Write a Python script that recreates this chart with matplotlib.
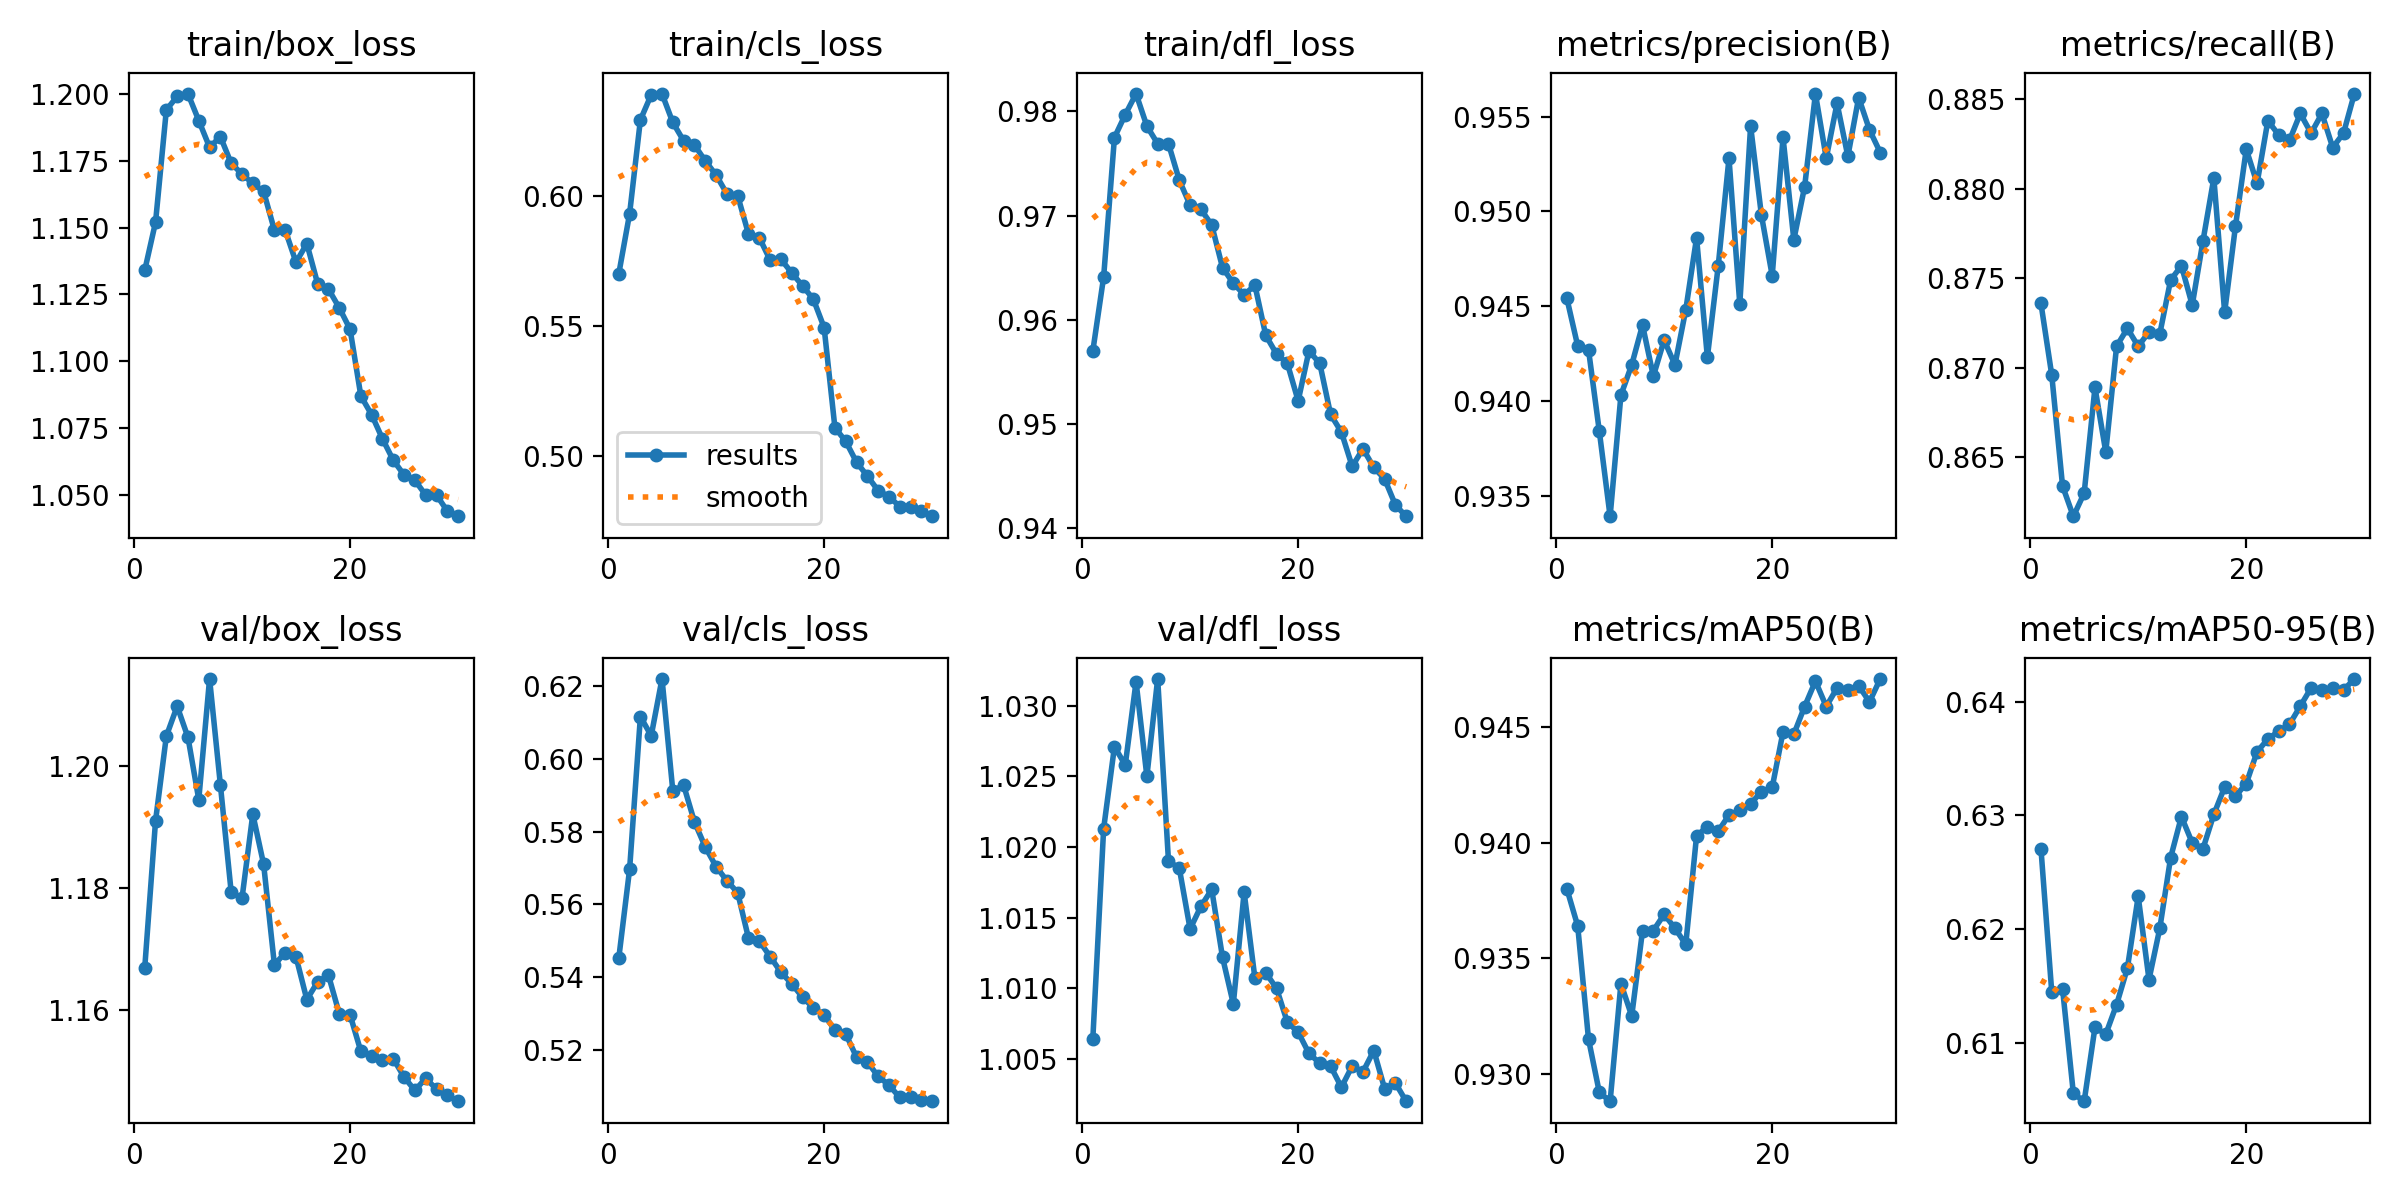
import numpy as np
import matplotlib
matplotlib.use("Agg")
import matplotlib.pyplot as plt

epochs = list(range(1, 31))

train_box_loss = [1.134, 1.152, 1.194, 1.199, 1.200, 1.190, 1.180, 1.184, 1.174, 1.170,
                  1.1665, 1.1635, 1.149, 1.149, 1.137, 1.144, 1.129, 1.127, 1.120, 1.112,
                  1.087, 1.080, 1.071, 1.063, 1.0575, 1.0555, 1.050, 1.050, 1.044, 1.042]
train_cls_loss = [0.570, 0.593, 0.629, 0.6386, 0.639, 0.628, 0.621, 0.6194, 0.6133, 0.6079,
                  0.6007, 0.600, 0.5853, 0.5839, 0.5753, 0.5756, 0.5704, 0.5654, 0.5603, 0.5494,
                  0.511, 0.5058, 0.4978, 0.4925, 0.4869, 0.4846, 0.4808, 0.4808, 0.479, 0.477]
train_dfl_loss = [0.957, 0.9641, 0.9775, 0.9797, 0.9817, 0.9786, 0.9769, 0.9769, 0.9734, 0.9710,
                  0.9706, 0.9691, 0.9650, 0.9635, 0.9624, 0.9633, 0.9585, 0.9567, 0.9558, 0.9522,
                  0.9570, 0.9558, 0.9509, 0.9492, 0.9459, 0.9476, 0.9458, 0.9447, 0.9422, 0.9411]
precision = [0.9454, 0.9429, 0.9427, 0.9384, 0.9339, 0.9403, 0.9419, 0.9440, 0.9413, 0.9432,
             0.9419, 0.9448, 0.9486, 0.9423, 0.9471, 0.9528, 0.9451, 0.9545, 0.9498, 0.9466,
             0.9539, 0.9485, 0.9513, 0.9562, 0.9528, 0.9557, 0.9529, 0.9560, 0.9543, 0.9531]
recall = [0.8736, 0.8696, 0.8634, 0.8617, 0.8630, 0.8689, 0.8653, 0.8712, 0.8722, 0.8712,
          0.8720, 0.8719, 0.8749, 0.8757, 0.8735, 0.8771, 0.8806, 0.8731, 0.8779, 0.8822,
          0.8803, 0.8838, 0.8830, 0.8827, 0.8842, 0.8831, 0.8842, 0.8823, 0.8831, 0.8853]
val_box_loss = [1.1669, 1.1910, 1.2049, 1.2098, 1.2047, 1.1945, 1.2143, 1.1969, 1.1793, 1.1783,
                1.1921, 1.1839, 1.1674, 1.1694, 1.1687, 1.1617, 1.1646, 1.1657, 1.1594, 1.1592,
                1.1532, 1.1525, 1.1518, 1.1520, 1.1490, 1.1468, 1.1488, 1.1470, 1.1460, 1.1450]
val_cls_loss = [0.5452, 0.5696, 0.6117, 0.6064, 0.6221, 0.5912, 0.5928, 0.5827, 0.5758, 0.5704,
                0.5665, 0.5632, 0.5507, 0.5499, 0.5456, 0.5413, 0.5381, 0.5344, 0.5315, 0.5296,
                0.5253, 0.5243, 0.5179, 0.5166, 0.5126, 0.5102, 0.5068, 0.5068, 0.5062, 0.5057]
val_dfl_loss = [1.00645, 1.0213, 1.0271, 1.0258, 1.0317, 1.0250, 1.0319, 1.0190, 1.0185, 1.0142,
                1.0158, 1.0170, 1.0122, 1.0089, 1.0168, 1.0107, 1.0111, 1.0100, 1.0076, 1.0069,
                1.0054, 1.0047, 1.0045, 1.0030, 1.0045, 1.0041, 1.0056, 1.0029, 1.0033, 1.0020]
map50 = [0.9380, 0.9364, 0.9315, 0.9292, 0.9288, 0.9339, 0.9325, 0.9362, 0.9362, 0.9369,
         0.9363, 0.9356, 0.9403, 0.9407, 0.9405, 0.9412, 0.9414, 0.9417, 0.9422, 0.9424,
         0.9448, 0.9447, 0.9459, 0.9470, 0.9459, 0.9467, 0.9466, 0.9468, 0.9461, 0.9471]
map50_95 = [0.6271, 0.6145, 0.6148, 0.6056, 0.6049, 0.6114, 0.6108, 0.6134, 0.6166, 0.6229,
            0.6156, 0.6201, 0.6263, 0.6299, 0.6276, 0.6271, 0.6301, 0.6325, 0.6317, 0.6328,
            0.6356, 0.6367, 0.6374, 0.6380, 0.6396, 0.6412, 0.6410, 0.6412, 0.6410, 0.6420]

titles = ['train/box_loss', 'train/cls_loss', 'train/dfl_loss', 'metrics/precision(B)', 'metrics/recall(B)',
          'val/box_loss', 'val/cls_loss', 'val/dfl_loss', 'metrics/mAP50(B)', 'metrics/mAP50-95(B)']
series = [train_box_loss, train_cls_loss, train_dfl_loss, precision, recall,
          val_box_loss, val_cls_loss, val_dfl_loss, map50, map50_95]

# tick labels as shown in the reference
x_ticks = [0, 20]
y_ticks = [
    ['1.050', '1.075', '1.100', '1.125', '1.150', '1.175', '1.200'],
    ['0.50', '0.55', '0.60'],
    ['0.94', '0.95', '0.96', '0.97', '0.98'],
    ['0.935', '0.940', '0.945', '0.950', '0.955'],
    ['0.865', '0.870', '0.875', '0.880', '0.885'],
    ['1.16', '1.18', '1.20'],
    ['0.52', '0.54', '0.56', '0.58', '0.60', '0.62'],
    ['1.005', '1.010', '1.015', '1.020', '1.025', '1.030'],
    ['0.930', '0.935', '0.940', '0.945'],
    ['0.61', '0.62', '0.63', '0.64'],
]


def gaussian_smooth(y, sigma=3, truncate=4.0):
    # same as scipy gaussian_filter1d with mode='reflect'
    y = np.asarray(y, dtype=float)
    radius = int(truncate * sigma + 0.5)
    k = np.arange(-radius, radius + 1)
    w = np.exp(-0.5 * (k / sigma) ** 2)
    w /= w.sum()
    padded = np.pad(y, radius, mode='symmetric')
    return np.convolve(padded, w, mode='valid')


fig, ax = plt.subplots(2, 5, figsize=(12, 6), tight_layout=True)
ax = ax.ravel()
for i, (title, y) in enumerate(zip(titles, series)):
    ax[i].plot(epochs, y, marker='.', label='results', linewidth=2, markersize=8)
    ax[i].plot(epochs, gaussian_smooth(y), ':', label='smooth', linewidth=2)
    ax[i].set_title(title, fontsize=12)
    ax[i].set_xticks(x_ticks)
    ax[i].set_yticks([float(t) for t in y_ticks[i]], y_ticks[i])
    ax[i].autoscale(axis='y')
ax[1].legend(loc='lower left')
fig.savefig('out.png', dpi=200)
